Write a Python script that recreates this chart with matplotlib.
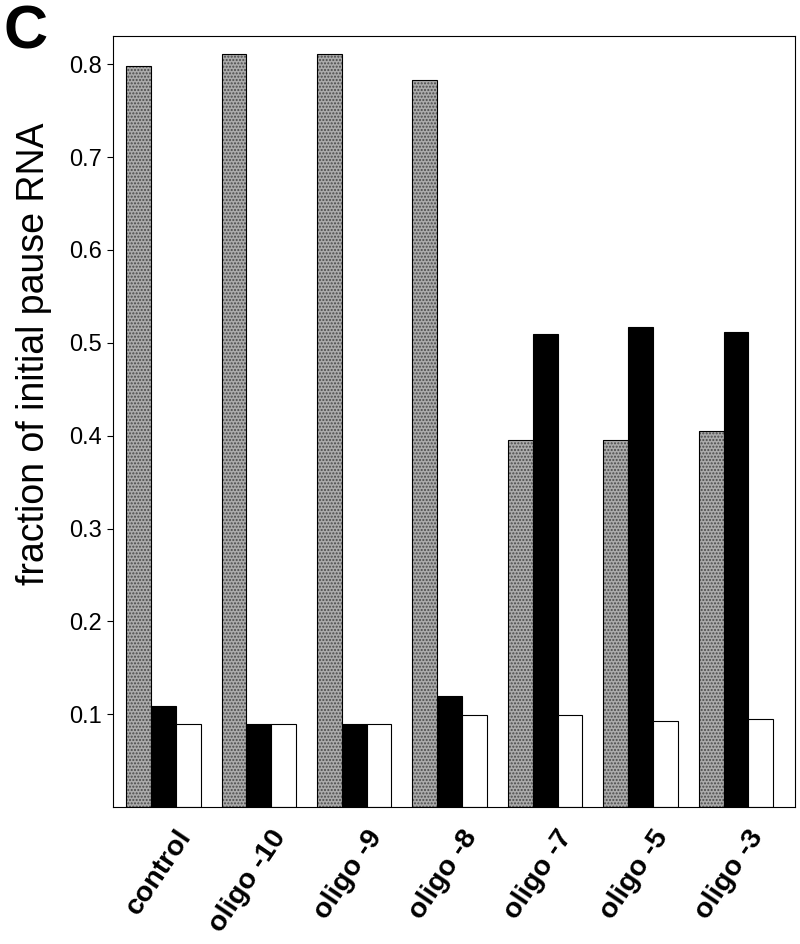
import numpy as np
import matplotlib.pyplot as plt

# data
groups = ['control', 'oligo -10', 'oligo -9', 'oligo -8', 'oligo -7', 'oligo -5', 'oligo -3']
gray_vals = [0.798, 0.811, 0.811, 0.783, 0.395, 0.395, 0.405]
black_vals = [0.109, 0.089, 0.089, 0.120, 0.509, 0.517, 0.512]
white_vals = [0.089, 0.089, 0.089, 0.099, 0.099, 0.093, 0.095]
yticks = [0.1, 0.2, 0.3, 0.4, 0.5, 0.6, 0.7, 0.8]

plt.rcParams['font.family'] = ['Liberation Sans', 'DejaVu Sans']
plt.rcParams['hatch.linewidth'] = 1.0

fig = plt.figure(figsize=(8, 9.44), dpi=100)
ax = fig.add_axes([0.141, 0.145, 0.853, 0.817])

x = np.arange(len(groups))
w = 0.26
# stippled grey bars: dotted fill, then a black outline on top
ax.bar(x - w, gray_vals, w, color='#ababab', edgecolor='#4a4a4a', hatch='.....', lw=0)
ax.bar(x - w, gray_vals, w, fill=False, edgecolor='black', lw=0.8)
ax.bar(x, black_vals, w, color='black', edgecolor='black', lw=0.8)
ax.bar(x + w, white_vals, w, color='white', edgecolor='black', lw=0.8)

ax.set_xlim(-0.53, 6.62)
ax.set_ylim(0, 0.8305)
ax.set_yticks(yticks)
ax.set_yticklabels(['%.1f' % t for t in yticks], fontsize=17)
ax.tick_params(axis='y', direction='out', length=4, width=0.8, pad=4)

ax.set_xticks(x + 0.12)
ax.set_xticklabels(groups, rotation=56, ha='right', va='top', rotation_mode='anchor',
                   fontsize=20.5, fontweight='bold')
ax.tick_params(axis='x', length=0, pad=13)

for sp in ax.spines.values():
    sp.set_linewidth(0.8)

fig.text(0.042, 0.625, 'fraction of initial pause RNA', fontsize=27, rotation=90,
         ha='center', va='center')
fig.text(0.005, 0.995, 'C', fontsize=44, fontweight='bold', ha='left', va='top')

plt.savefig('out.png', dpi=100)
